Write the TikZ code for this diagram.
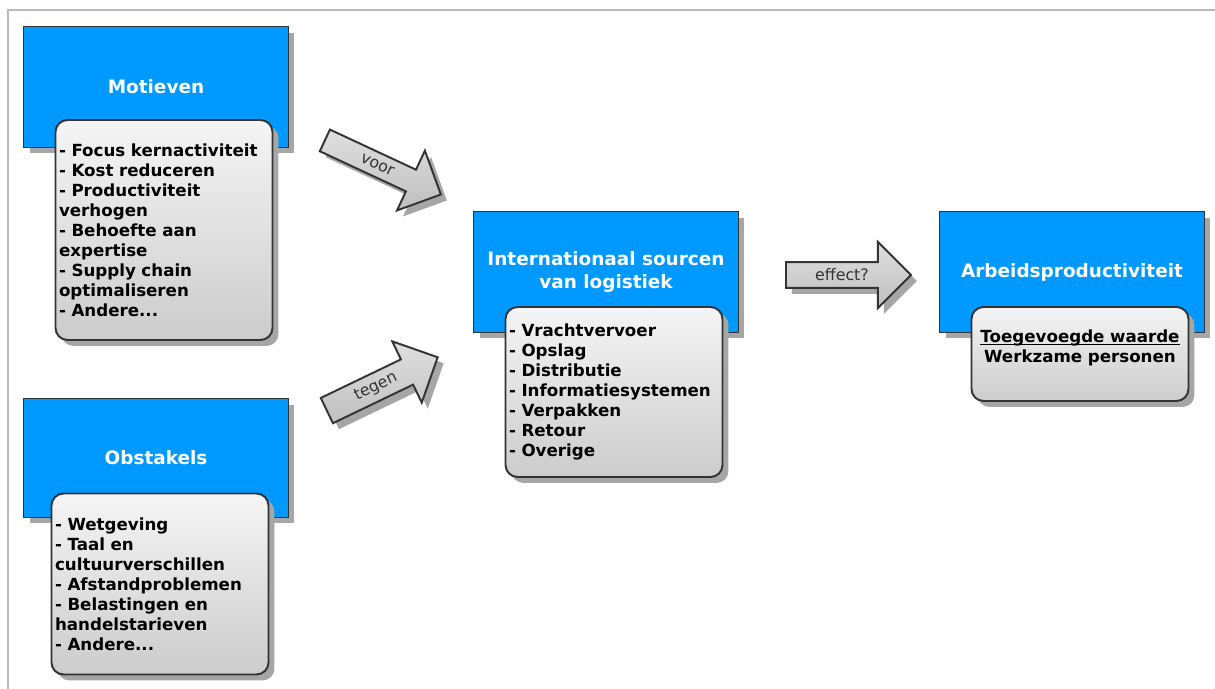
\documentclass[tikz,border=0pt]{standalone}
\usepackage{fontspec}
\setmainfont{DejaVu Sans}
\usepackage{xcolor}
\usetikzlibrary{shapes.arrows,shadows}

\definecolor{boxblue}{HTML}{0099FF}
\definecolor{edge}{HTML}{333333}

\tikzset{
  shade/.style={drop shadow={shadow xshift=0.12cm, shadow yshift=-0.12cm, fill=black!35, opacity=1}},
  head/.style={rectangle, draw=edge, line width=1.1pt, fill=boxblue, shade,
    minimum width=5.3cm, minimum height=2.42cm, text=white, align=center,
    font=\bfseries\fontsize{10.5}{13}\selectfont},
  list/.style={rectangle, draw=edge, line width=1.1pt, rounded corners=0.24cm,
    top color=gray!8, bottom color=gray!40, shade,
    minimum width=4.34cm, text width=4.2cm, inner xsep=2pt, align=left,
    font=\bfseries\fontsize{9.5}{11.4}\selectfont},
  blockarrow/.style={single arrow, draw=edge, line width=1.1pt, top color=gray!25, bottom color=gray!50, shade,
    minimum width=1.32cm, single arrow head extend=0.4cm, single arrow tip angle=90,
    anchor=tail, text=edge, font=\fontsize{9}{10}\selectfont}
}

\begin{document}
\begin{tikzpicture}[x=0.02cm, y=-0.02cm]
\useasboundingbox (0,0) rectangle (1215,689);
% frame
\draw[gray!55, line width=1pt] (8,689) -- (8,10) -- (1215,10);

% left column
\node[head] (mot) at (156,87) {Motieven};
\node[list, minimum height=4.4cm] (motlist) at (164,230) {- Focus kernactiviteit\\- Kost reduceren\\- Productiviteit\\verhogen\\- Behoefte aan\\expertise\\- Supply chain\\optimaliseren\\- Andere...};

\node[head, minimum height=2.38cm] (obs) at (156,458) {Obstakels};
\node[list, minimum height=3.62cm] (obslist) at (160,584) {- Wetgeving\\- Taal en\\cultuurverschillen\\- Afstandproblemen\\- Belastingen en\\handelstarieven\\- Andere...};

% middle
\node[head] (isl) at (606,272) {Internationaal sourcen\\van logistiek};
\node[list, minimum height=3.4cm] (isllist) at (614,392) {- Vrachtvervoer\\- Opslag\\- Distributie\\- Informatiesystemen\\- Verpakken\\- Retour\\- Overige};

% right
\node[head] (arb) at (1072,272) {Arbeidsproductiviteit};
\node[list, minimum height=1.88cm, align=center] (arblist) at (1080,354) {\underline{\smash{Toegevoegde waarde}}\\Werkzame personen};

% block arrows
\node[blockarrow, minimum height=2.56cm, rotate=-25] (voor) at (324,140) {voor};
\node[blockarrow, minimum height=2.46cm, rotate=25.7] (tegen) at (326,411) {tegen};
\node[blockarrow, minimum height=2.5cm] (effect) at (785,275) {effect?};
\end{tikzpicture}
\end{document}
